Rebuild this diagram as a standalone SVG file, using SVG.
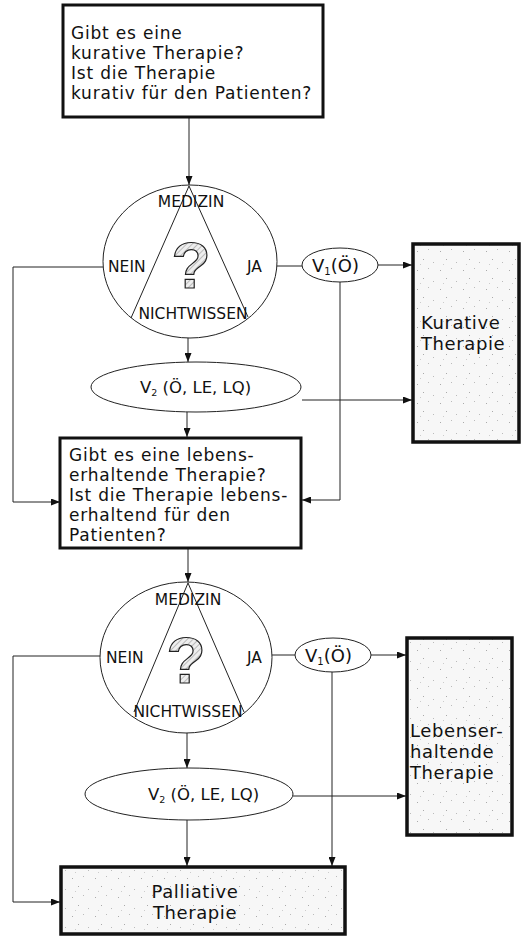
<svg xmlns="http://www.w3.org/2000/svg" width="525" height="936" viewBox="0 0 525 936">
<style>
.box{fill:#fff;stroke:#111;stroke-width:3}
.gbox{fill:url(#speck);stroke:#111;stroke-width:3.5}
.ell{fill:#fff;stroke:#222;stroke-width:1}
.con{fill:none;stroke:#222;stroke-width:1}
.tri{fill:none;stroke:#222;stroke-width:1}
.t{font-family:"DejaVu Sans","Liberation Sans",sans-serif;font-size:17px;letter-spacing:0.8px;fill:#111}
.tb{font-family:"DejaVu Sans","Liberation Sans",sans-serif;font-size:18px;letter-spacing:0.6px;fill:#111}
.tc{font-family:"DejaVu Sans","Liberation Sans",sans-serif;font-size:15.5px;fill:#111}
.tv{font-family:"DejaVu Sans","Liberation Sans",sans-serif;font-size:18px;fill:#111}
.tv2{font-family:"DejaVu Sans","Liberation Sans",sans-serif;font-size:16.5px;fill:#111}
.q{font-family:"Liberation Sans",Arial,sans-serif;font-size:64px;font-weight:bold;fill:url(#hatch);stroke:#222;stroke-width:1.2}
</style>
<defs>
<marker id="arr" viewBox="0 0 9 7" refX="9" refY="3.5" markerWidth="9" markerHeight="7" markerUnits="userSpaceOnUse" orient="auto">
<path d="M0,0 L9,3.5 L0,7 z" fill="#111"/>
</marker>
<pattern id="speck" width="23" height="19" patternUnits="userSpaceOnUse">
<rect width="23" height="19" fill="#f7f7f7"/>
<rect x="3" y="4" width="1" height="1" fill="#aaa"/>
<rect x="14" y="2" width="1" height="1" fill="#bbb"/>
<rect x="9" y="12" width="1" height="1" fill="#aaa"/>
<rect x="19" y="15" width="1" height="1" fill="#bbb"/>
<rect x="6" y="17" width="1" height="1" fill="#ccc"/>
</pattern>
<pattern id="hatch" width="4" height="4" patternUnits="userSpaceOnUse" patternTransform="rotate(45)">
<rect width="4" height="4" fill="#eee"/>
<line x1="0" y1="0" x2="0" y2="4" stroke="#999" stroke-width="1.2"/>
</pattern>
</defs>

<g id="connectors">
<path class="con" d="M189,117 V185" marker-end="url(#arr)"/>
<path class="con" d="M103,267 H13 V502 H60" marker-end="url(#arr)"/>
<path class="con" d="M277,266 H302"/>
<path class="con" d="M378,265 H412" marker-end="url(#arr)"/>
<path class="con" d="M340,282 V500 H302" marker-end="url(#arr)"/>
<path class="con" d="M188,338 V362" marker-end="url(#arr)"/>
<path class="con" d="M302,400 H412" marker-end="url(#arr)"/>
<path class="con" d="M187,412 V437" marker-end="url(#arr)"/>
<path class="con" d="M188,548 V582" marker-end="url(#arr)"/>
<path class="con" d="M100,656 H13 V902 H60" marker-end="url(#arr)"/>
<path class="con" d="M272,655 H295"/>
<path class="con" d="M371,655 H406" marker-end="url(#arr)"/>
<path class="con" d="M332,672 V866" marker-end="url(#arr)"/>
<path class="con" d="M187,733 V768" marker-end="url(#arr)"/>
<path class="con" d="M293,796 H406" marker-end="url(#arr)"/>
<path class="con" d="M187,820 V866" marker-end="url(#arr)"/>
</g>

<g id="q1">
<rect class="box" x="63" y="5" width="260" height="112"/>
<text class="t"><tspan x="71" y="39">Gibt es eine</tspan><tspan x="71" y="59">kurative Therapie?</tspan><tspan x="71" y="79">Ist die Therapie</tspan><tspan x="71" y="99">kurativ für den Patienten?</tspan></text>
</g>

<g id="c1">
<ellipse class="ell" cx="190" cy="261.5" rx="87" ry="76.5"/>
<path class="tri" d="M131,318 L189,186 L248,317"/>
<text class="q" x="191" y="288" text-anchor="middle">?</text>
<text class="tc" x="191" y="207" text-anchor="middle">MEDIZIN</text>
<text class="tc" x="108" y="272">NEIN</text>
<text class="tc" x="247" y="272">JA</text>
<text class="tc" x="193" y="319" text-anchor="middle">NICHTWISSEN</text>
</g>

<g id="v1a">
<ellipse class="ell" cx="340" cy="265" rx="38" ry="17"/>
<text class="tv" x="312" y="272">V<tspan font-size="10" dy="3">1</tspan><tspan dy="-3">(Ö)</tspan></text>
</g>

<g id="kurativ">
<rect class="gbox" x="413" y="244" width="106" height="198"/>
<text class="tb"><tspan x="421" y="329">Kurative</tspan><tspan x="421" y="350">Therapie</tspan></text>
</g>

<g id="v2a">
<ellipse class="ell" cx="196" cy="387" rx="105" ry="25"/>
<text class="tv2" x="140" y="393">V<tspan font-size="9.5" dy="3">2</tspan><tspan dy="-3"> (Ö, LE, LQ)</tspan></text>
</g>

<g id="q2">
<rect class="box" x="60" y="438" width="241" height="110"/>
<text class="t"><tspan x="69" y="461">Gibt es eine lebens-</tspan><tspan x="69" y="481">erhaltende Therapie?</tspan><tspan x="69" y="501">Ist die Therapie lebens-</tspan><tspan x="69" y="521">erhaltend für den</tspan><tspan x="69" y="541">Patienten?</tspan></text>
</g>

<g id="c2">
<ellipse class="ell" cx="186" cy="657.5" rx="86" ry="75.5"/>
<path class="tri" d="M134,712 L188,583 L244,712"/>
<text class="q" x="186" y="683" text-anchor="middle">?</text>
<text class="tc" x="188" y="605" text-anchor="middle">MEDIZIN</text>
<text class="tc" x="106" y="663">NEIN</text>
<text class="tc" x="247" y="663">JA</text>
<text class="tc" x="188" y="717" text-anchor="middle">NICHTWISSEN</text>
</g>

<g id="v1b">
<ellipse class="ell" cx="333" cy="655" rx="38" ry="17"/>
<text class="tv" x="305" y="662">V<tspan font-size="10" dy="3">1</tspan><tspan dy="-3">(Ö)</tspan></text>
</g>

<g id="lebens">
<rect class="gbox" x="407" y="638" width="105" height="197"/>
<text class="tb"><tspan x="410" y="737">Lebenser-</tspan><tspan x="410" y="758">haltende</tspan><tspan x="410" y="779">Therapie</tspan></text>
</g>

<g id="v2b">
<ellipse class="ell" cx="189" cy="794" rx="104" ry="26"/>
<text class="tv2" x="148" y="800">V<tspan font-size="9.5" dy="3">2</tspan><tspan dy="-3"> (Ö, LE, LQ)</tspan></text>
</g>

<g id="palliativ">
<rect class="gbox" x="61" y="867" width="284" height="67"/>
<text class="tb" text-anchor="middle"><tspan x="195" y="898">Palliative</tspan><tspan x="195" y="919">Therapie</tspan></text>
</g>
</svg>
